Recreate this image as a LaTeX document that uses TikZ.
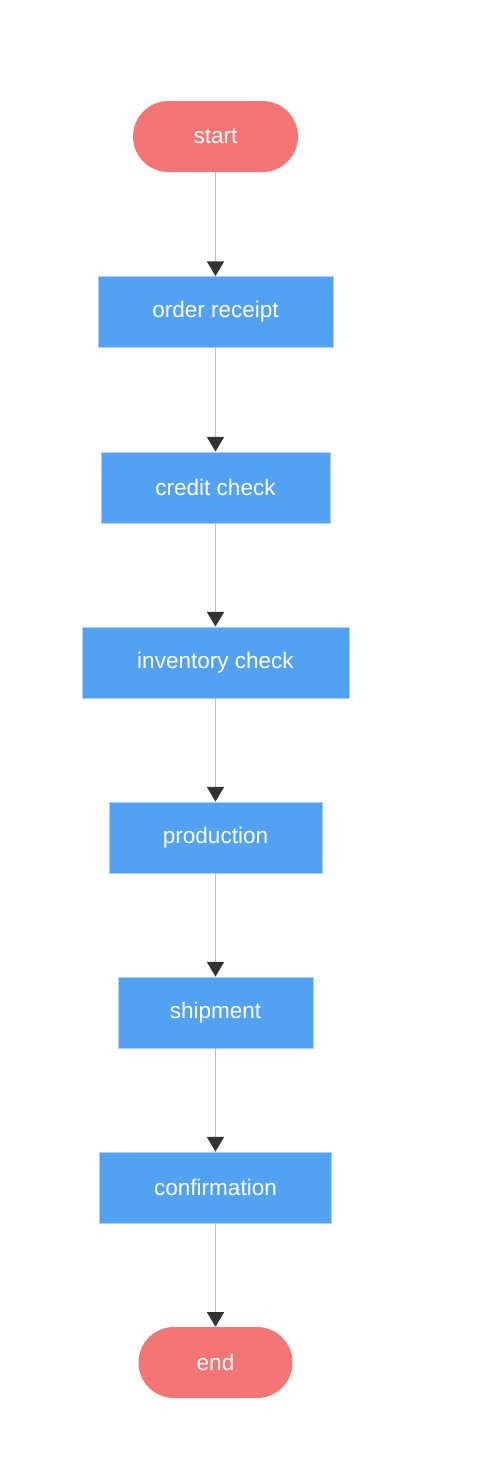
\documentclass[tikz,border=0pt]{standalone}
\usepackage{fontspec}
\setmainfont{Liberation Sans}
\usetikzlibrary{arrows.meta}
\definecolor{termred}{HTML}{F47575}
\definecolor{stepblue}{HTML}{52A1F2}
\definecolor{stepedge}{HTML}{A9D0F8}
\definecolor{linegray}{HTML}{BDBDC4}
\definecolor{tipgray}{HTML}{333333}
\begin{document}
\begin{tikzpicture}[x=.75pt,y=-.75pt,font=\fontsize{16.9}{20}\selectfont,line cap=butt,
	term/.style={rectangle,rounded corners=26.6pt,fill=termred,text=white,minimum height=53.25pt,inner sep=0pt},
	stepbox/.style={rectangle,fill=stepblue,draw=stepedge,line width=.6pt,text=white,minimum height=53.25pt,inner sep=0pt},
	flow/.style={draw=linegray,line width=1.1pt,-{Triangle[width=12.75pt,length=11pt,color=tipgray]}}]
	\useasboundingbox (0,0) rectangle (479,1481);
	\node[term,minimum width=123.75pt] (start) at (215.5,136.5) {start};
	\node[stepbox,minimum width=176.25pt] (receipt) at (215.5,312) {order receipt};
	\node[stepbox,minimum width=171.75pt] (credit) at (215.5,487.5) {credit check};
	\node[stepbox,minimum width=200.25pt] (inventory) at (215.5,662.5) {inventory check};
	\node[stepbox,minimum width=159.75pt] (production) at (215.5,837.5) {production};
	\node[stepbox,minimum width=146.25pt] (shipment) at (215.5,1012.5) {shipment};
	\node[stepbox,minimum width=174pt] (confirm) at (215.5,1187.5) {confirmation};
	\node[term,minimum width=115.5pt] (end) at (215.5,1362.5) {end};
	\draw[flow] (start) -- (receipt);
	\draw[flow] (receipt) -- (credit);
	\draw[flow] (credit) -- (inventory);
	\draw[flow] (inventory) -- (production);
	\draw[flow] (production) -- (shipment);
	\draw[flow] (shipment) -- (confirm);
	\draw[flow] (confirm) -- (end);
\end{tikzpicture}
\end{document}
